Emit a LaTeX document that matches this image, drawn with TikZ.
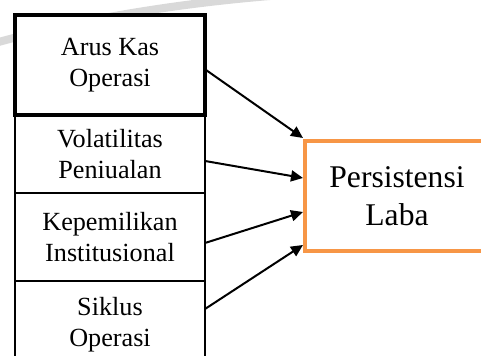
\documentclass[tikz,border=0pt]{standalone}
\usepackage{fontspec}
\setmainfont{Liberation Serif}
\usetikzlibrary{arrows.meta,positioning,calc}
\definecolor{jingga}{HTML}{F79646}
\definecolor{tanda}{HTML}{D9D9D9}

\begin{document}
\begin{tikzpicture}[
  x=0.5pt, y=-0.5pt,
  var/.style={
    draw=black, fill=white, line width=0.75pt, outer sep=0pt,
    minimum width=95pt, align=center, inner sep=0pt,
    font=\fontsize{13.1}{15.5}\selectfont
  },
  dep/.style={
    draw=jingga, fill=white, line width=2pt, align=center,
    minimum width=92pt, minimum height=55pt,
    font=\fontsize{15.8}{19}\selectfont
  },
  arr/.style={-{Triangle[length=6pt,width=5.5pt]}, line width=1pt}
]
  \useasboundingbox (0,0) rectangle (481,356);
  \clip (0,0) rectangle (481,356);
  % watermark band behind the boxes
  \draw[tanda, line width=4pt] (-5,43) .. controls (60,25) and (150,6) .. (270,-4);
  % independent variables
  \node[var, line width=2pt, minimum height=50pt] (aks) at (110,65) {Arus Kas\\Operasi};
  \node[var, minimum height=39pt, below=0pt of aks] (vol) {Volatilitas\\Peniualan};
  \node[var, minimum height=44pt, below=0pt of vol] (kep) {Kepemilikan\\Institusional};
  \node[var, minimum height=44pt, below=0pt of kep] (sik) {Siklus\\Operasi};
  \draw[line width=2pt] (aks.north west) rectangle (aks.south east);
  % dependent variable
  \node[dep] (laba) at (397,196) {Persistensi\\Laba};
  \draw[arr] ($(aks.east)+(1,5)$) -- ($(laba.west)+(0,-58)$);
  \draw[arr] ($(vol.east)+(0,7)$) -- ($(laba.west)+(0,-18)$);
  \draw[arr] ($(kep.east)+(0,6)$) -- ($(laba.west)+(0,16)$);
  \draw[arr] ($(sik.east)+(0,-16)$) -- ($(laba.west)+(0,49)$);
\end{tikzpicture}
\end{document}
